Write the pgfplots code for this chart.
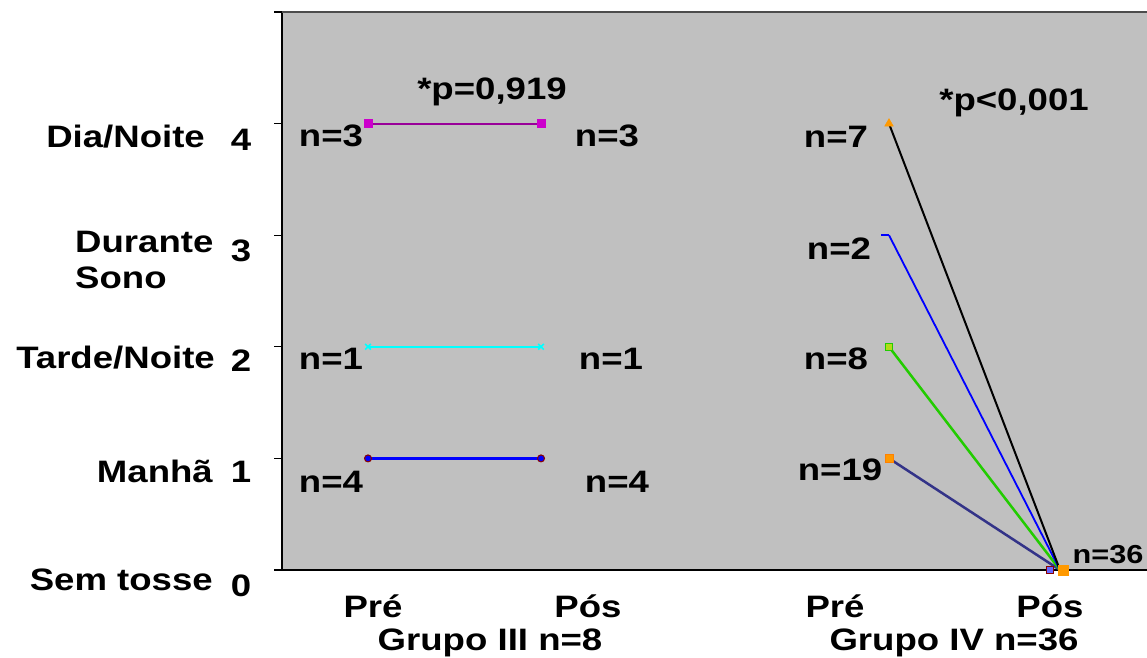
\documentclass[border=0pt]{standalone}
\usepackage{fontspec}
\setmainfont{Liberation Sans}
\usepackage{pgfplots}
\pgfplotsset{compat=1.18}
\definecolor{bgray}{HTML}{C0C0C0}
\definecolor{lpurple}{HTML}{990099}
\definecolor{mmag}{HTML}{CC00CC}
\definecolor{lcyan}{HTML}{00FFFF}
\definecolor{lblue}{HTML}{0000FF}
\definecolor{lgreen}{HTML}{22CC00}
\definecolor{lslate}{HTML}{333388}
\definecolor{lorange}{HTML}{FF9900}
\definecolor{dred}{HTML}{880000}
\newcommand\T[1]{\scalebox{1.18}[1]{#1}}
\begin{document}
\begin{tikzpicture}[x=1pt,y=1pt]
\useasboundingbox (-282,-87) rectangle (865,570);
\begin{axis}[at={(0,0)}, anchor=south west,
  width=865pt, height=558pt, scale only axis,
  xmin=282, xmax=1147, ymin=0, ymax=5,
  axis background/.style={fill=bgray},
  axis x line*=bottom, axis y line*=left,
  xtick=\empty, ytick={0,1,2,3,4,5}, yticklabel=\empty,
  tick align=outside, major tick length=8pt,
  tick style={black, line width=1.2pt},
  axis line style={line width=1.5pt, black},
  clip=false]
\draw[gray!60!black, line width=1.5pt] (rel axis cs:0,1) -- (rel axis cs:1,1);
% Grupo III
\addplot[lpurple, line width=2pt, mark=square*, mark size=3.5pt, mark options={fill=mmag, draw=mmag}] coordinates {(368,4) (541,4)};
\addplot[lcyan, line width=2pt, mark=x, mark size=4pt, mark options={lcyan, line width=1.5pt}] coordinates {(368,2) (541,2)};
\addplot[lblue, line width=2.5pt, mark=*, mark size=3.5pt, mark options={fill=lblue, draw=dred, line width=1pt}] coordinates {(368,1) (541,1)};
% Grupo IV
\addplot[lslate, line width=2.5pt] coordinates {(889,1) (1060,0)};
\addplot[lgreen, line width=2.5pt] coordinates {(889,2) (1060,0)};
\addplot[lblue, line width=1.8pt] coordinates {(889,3) (1060,0)};
\addplot[black, line width=2pt] coordinates {(889,4) (1060,0)};
\addplot[only marks, mark=triangle*, mark size=5pt, mark options={fill=lorange, draw=lorange}] coordinates {(889,4)};
\addplot[only marks, mark=-, mark size=4pt, mark options={lblue, line width=2pt}] coordinates {(885,3)};
\addplot[only marks, mark=square*, mark size=3.5pt, mark options={fill=yellow!70!green, draw=lgreen}] coordinates {(889,2)};
\addplot[only marks, mark=square*, mark size=4pt, mark options={fill=lorange, draw=orange}] coordinates {(889,1)};
\addplot[only marks, mark=square*, mark size=3.5pt, mark options={fill=lblue!60!white, draw=dred}] coordinates {(1050,0)};
\addplot[only marks, mark=square*, mark size=5pt, mark options={fill=lorange, draw=lorange}] coordinates {(1063,0)};
\end{axis}
\begin{scope}[every node/.style={font=\fontsize{31}{34}\selectfont\bfseries, inner sep=0pt}]
% y category labels
\node[anchor=base east] at (-77,422) {\T{Dia/Noite}};
\node[anchor=base west] at (-207,318) {\T{Durante}};
\node[anchor=base west] at (-207,282) {\T{Sono}};
\node[anchor=base east] at (-67,202) {\T{Tarde/Noite}};
\node[anchor=base east] at (-69,88) {\T{Manhã}};
\node[anchor=base east] at (-69,-20) {\T{Sem tosse}};
\node[anchor=base] at (-41,420) {\T{4}};
\node[anchor=base] at (-41,309) {\T{3}};
\node[anchor=base] at (-41,199) {\T{2}};
\node[anchor=base] at (-41,88) {\T{1}};
\node[anchor=base] at (-41,-26) {\T{0}};
% x labels
\node[anchor=base] at (91,-47) {\T{Pré}};
\node[anchor=base] at (306,-47) {\T{Pós}};
\node[anchor=base] at (208,-80) {\T{Grupo III n=8}};
\node[anchor=base] at (553,-47) {\T{Pré}};
\node[anchor=base] at (768,-47) {\T{Pós}};
\node[anchor=base] at (672,-80) {\T{Grupo IV n=36}};
% in-plot labels
\node[anchor=base] at (210,470) {\T{*p=0,919}};
\node[anchor=base] at (732,459) {\T{*p<0,001}};
\node[anchor=base] at (49,423) {\T{n=3}};
\node[anchor=base] at (325,423) {\T{n=3}};
\node[anchor=base] at (554,422) {\T{n=7}};
\node[anchor=base] at (557,311) {\T{n=2}};
\node[anchor=base] at (49,201) {\T{n=1}};
\node[anchor=base] at (329,201) {\T{n=1}};
\node[anchor=base] at (554,201) {\T{n=8}};
\node[anchor=base] at (49,78) {\T{n=4}};
\node[anchor=base] at (335,78) {\T{n=4}};
\node[anchor=base] at (558,90) {\T{n=19}};
\node[anchor=base, font=\fontsize{26}{30}\selectfont\bfseries] at (826,7) {\T{n=36}};
\end{scope}
\end{tikzpicture}
\end{document}
